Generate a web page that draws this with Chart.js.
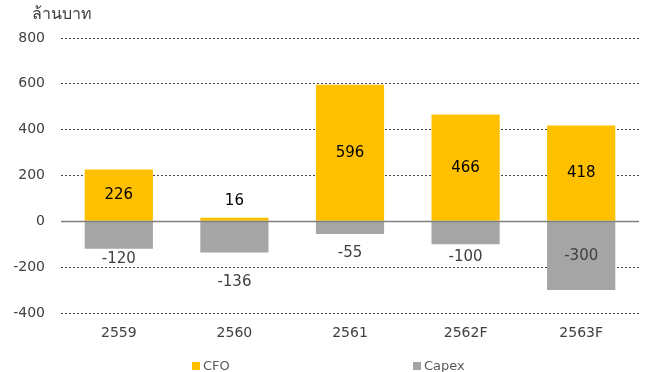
<!DOCTYPE html>
<html>
<head>
<meta charset="utf-8">
<script src="https://cdn.jsdelivr.net/npm/chart.js@4"></script>
<style>
  html, body { margin: 0; padding: 0; background: #fff; }
  #wrap { width: 645px; height: 372px; position: relative; }
</style>
</head>
<body>
<div id="wrap"><canvas id="c" width="645" height="372"></canvas></div>
<script>
// Cash flow from operations vs. capital expenditure (million baht)
const years = ['2559', '2560', '2561', '2562F', '2563F'];
const cfo = [226, 16, 596, 466, 418];
const capex = [-120, -136, -55, -100, -300];
const yTicks = [-400, -200, 0, 200, 400, 600, 800];
const unitLabel = 'ล้านบาท';
const seriesNames = ['CFO', 'Capex'];

// Label placement: gap (px) between a capex bar's bottom and its label; null = inside the bar
const capexLabelGap = [10, 30, 19, 13, null];

const FONT = '"DejaVu Sans", "Noto Sans", sans-serif';
const COLORS = ['#FFC000', '#A5A5A5'];

const labelPlugin = {
  id: 'barLabels',
  afterDatasetsDraw(chart) {
    const ctx = chart.ctx;
    const y = chart.scales.y;
    const area = chart.chartArea;
    // zero baseline across bars
    const y0 = Math.round(y.getPixelForValue(0)) + 0.5;
    ctx.save();
    ctx.strokeStyle = '#7f7f7f';
    ctx.lineWidth = 1.5;
    ctx.beginPath();
    ctx.moveTo(area.left, y0);
    ctx.lineTo(area.right, y0);
    ctx.stroke();

    ctx.font = '15px ' + FONT;
    ctx.textAlign = 'center';
    ctx.textBaseline = 'middle';

    // CFO values
    chart.getDatasetMeta(0).data.forEach((bar, i) => {
      const h = Math.abs(bar.base - bar.y);
      ctx.fillStyle = '#000';
      const ty = h > 24 ? (bar.y + bar.base) / 2 : bar.y - 17;
      ctx.fillText(String(cfo[i]), bar.x, ty);
    });

    // Capex values
    chart.getDatasetMeta(1).data.forEach((bar, i) => {
      const gap = capexLabelGap[i];
      ctx.fillStyle = '#404040';
      const ty = gap === null ? (bar.y + bar.base) / 2 : Math.max(bar.y, bar.base) + gap;
      ctx.fillText(String(capex[i]), bar.x, ty);
    });

    // unit caption
    ctx.fillStyle = '#404040';
    ctx.textAlign = 'left';
    ctx.font = '16px ' + FONT;
    ctx.fillText(unitLabel, 32, 15);

    // legend
    const legendX = [192, 413];
    ctx.font = '13px ' + FONT;
    seriesNames.forEach((name, k) => {
      ctx.fillStyle = COLORS[k];
      ctx.fillRect(legendX[k], 362, 8, 8);
      ctx.fillStyle = '#595959';
      ctx.fillText(name, legendX[k] + 11, 367);
    });
    ctx.restore();
  }
};

new Chart(document.getElementById('c'), {
  type: 'bar',
  data: {
    labels: years,
    datasets: [
      { label: seriesNames[0], data: cfo, backgroundColor: COLORS[0], borderWidth: 0 },
      { label: seriesNames[1], data: capex, backgroundColor: COLORS[1], borderWidth: 0 }
    ]
  },
  options: {
    responsive: false,
    animation: false,
    devicePixelRatio: 1,
    layout: { padding: { top: 38, right: 6, bottom: 35, left: 0 } },
    datasets: { bar: { categoryPercentage: 1, barPercentage: 0.59 } },
    plugins: { legend: { display: false }, tooltip: { enabled: false }, title: { display: false } },
    scales: {
      x: {
        stacked: true,
        grid: { display: false },
        border: { display: false },
        ticks: { color: '#404040', font: { family: FONT, size: 14 }, padding: 4 },
        afterFit(s) { s.height = 24; }
      },
      y: {
        stacked: true,
        min: yTicks[0],
        max: yTicks[yTicks.length - 1],
        afterBuildTicks(s) { s.ticks = yTicks.map(v => ({ value: v })); },
        grid: {
          color: ctx => (ctx.tick && ctx.tick.value === 0) ? 'rgba(0,0,0,0)' : '#444',
          lineWidth: 1,
          drawTicks: false
        },
        border: { display: false, dash: [2, 2] },
        ticks: { color: '#404040', font: { family: FONT, size: 14 }, padding: 16 },
        afterFit(s) { s.width = 61; }
      }
    }
  },
  plugins: [labelPlugin]
});
</script>
</body>
</html>
